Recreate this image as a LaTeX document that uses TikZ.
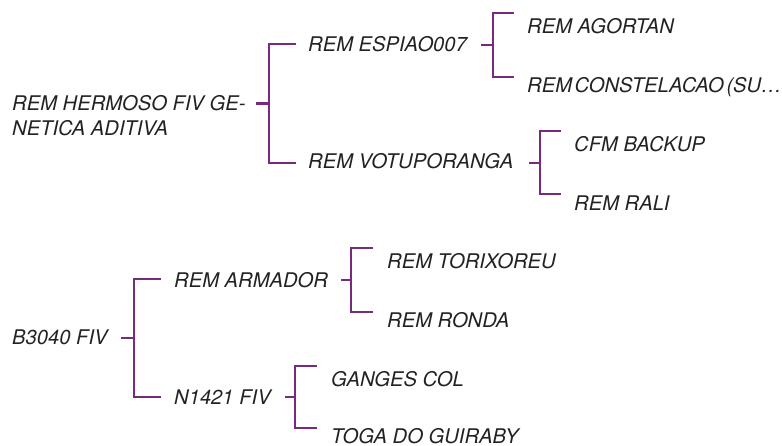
\documentclass[tikz,border=0pt]{standalone}
\usepackage{fontspec}
\setmainfont{TeX Gyre Heros}
\definecolor{br}{HTML}{772A7F}
\definecolor{tx}{HTML}{222222}
\begin{document}
\begin{tikzpicture}[x=1pt,y=-1pt,
  lbl/.style={anchor=base west,inner sep=0pt,text=tx,font=\fontsize{20.2}{25}\selectfont\itshape},
  rootlbl/.style={anchor=west,inner sep=0pt,text=tx,align=left,font=\fontsize{20.2}{25}\selectfont\itshape},
  brk/.style={draw=br,line width=2.8pt,line cap=butt,line join=miter}]
\useasboundingbox (0,0) rectangle (782,445);
% ---- tree 1
\node[rootlbl] (root1) at (12,115.5) {REM HERMOSO FIV GE-\\NETICA ADITIVA};
\node[lbl] (esp) at (308,51) {REM ESPIAO007};
\node[lbl] (vot) at (308,168) {REM VOTUPORANGA};
\node[lbl] (ago) at (527,33) {REM AGORTAN};
\node[lbl] (con) at (527,92) {REM\hspace{-3pt} CONSTELACAO\hspace{-3pt} (SU…};
\node[lbl] (cfm) at (574,151) {CFM BACKUP};
\node[lbl] (ral) at (574,210) {REM RALI};
% brackets tree 1
\coordinate (r1s) at (256,103.5); \coordinate (r1j) at (269,103.5);
\coordinate (r1t) at (296,44); \coordinate (r1b) at (296,163);
\draw[brk] (r1s) -- (r1j);
\draw[brk] (r1t) -- (269,44) -- (269,163) -- (r1b);
\coordinate (e1s) at (481,45); \coordinate (e1j) at (493,45);
\coordinate (e1t) at (514,13); \coordinate (e1b) at (514,77);
\draw[brk] (e1s) -- (e1j);
\draw[brk] (e1t) -- (493,13) -- (493,77) -- (e1b);
\coordinate (v1s) at (529,163); \coordinate (v1j) at (540,163);
\coordinate (v1t) at (561,131); \coordinate (v1b) at (561,194);
\draw[brk] (v1s) -- (v1j);
\draw[brk] (v1t) -- (540,131) -- (540,194) -- (v1b);
% ---- tree 2
\node[lbl] (b30) at (12,344) {B3040 FIV};
\node[lbl] (arm) at (174,287) {REM ARMADOR};
\node[lbl] (n14) at (174,404) {N1421 FIV};
\node[lbl] (tor) at (387,268) {REM TORIXOREU};
\node[lbl] (ron) at (387,327) {REM RONDA};
\node[lbl] (gan) at (331,386) {GANGES COL};
\node[lbl] (tog) at (331,443) {TOGA DO GUIRABY};
\coordinate (b2s) at (121,338); \coordinate (b2j) at (134,338);
\coordinate (b2t) at (161,279); \coordinate (b2b) at (161,397);
\draw[brk] (b2s) -- (b2j);
\draw[brk] (b2t) -- (134,279) -- (134,397) -- (b2b);
\coordinate (a2s) at (341,280); \coordinate (a2j) at (351,280);
\coordinate (a2t) at (373,248); \coordinate (a2b) at (373,312);
\draw[brk] (a2s) -- (a2j);
\draw[brk] (a2t) -- (351,248) -- (351,312) -- (a2b);
\coordinate (n2s) at (285,397); \coordinate (n2j) at (295,397);
\coordinate (n2t) at (317,366); \coordinate (n2b) at (317,428);
\draw[brk] (n2s) -- (n2j);
\draw[brk] (n2t) -- (295,366) -- (295,428) -- (n2b);
\end{tikzpicture}
\end{document}
